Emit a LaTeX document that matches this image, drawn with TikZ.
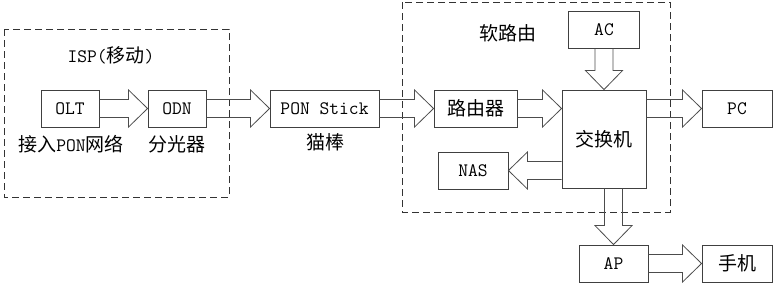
\documentclass[tikz,border=0pt]{standalone}
\usepackage{fontspec}
\usepackage{tikz}
\usetikzlibrary{calc}
\newfontfamily\cjk{Noto Sans CJK SC}

\begin{document}
\begin{tikzpicture}[x=1pt,y=-1pt,
  font=\fontsize{19}{21}\selectfont\ttfamily,
  box/.style={draw=black!75,line width=0.9pt,inner sep=0pt,minimum height=37pt},
  group/.style={draw=black!80,line width=0.9pt,dash pattern=on 7pt off 4pt},
  blk/.style={draw=black!70,line width=0.8pt,to path={
    let \p1=($(\tikztotarget)!19pt!(\tikztostart)$) in
    ($(\tikztostart)!9pt!90:(\tikztotarget)$) -- ($(\p1)!9pt!90:(\tikztotarget)$)
    -- ($(\p1)!18.5pt!90:(\tikztotarget)$) -- (\tikztotarget)
    -- ($(\p1)!18.5pt!-90:(\tikztotarget)$) -- ($(\p1)!9pt!-90:(\tikztotarget)$)
    -- ($(\tikztostart)!9pt!-90:(\tikztotarget)$)}}]
\useasboundingbox (0,0) rectangle (776,284);
\draw[group] (4,29) rectangle (229,197);
\draw[group] (402,2) rectangle (670,212);
\node (isp) at (111,55) {ISP({\cjk 移动})};
\node (soft) at (508,33) {\cjk 软路由};
\node[box,minimum width=58pt] (olt) at (70,108.5) {OLT};
\node[box,minimum width=58pt] (odn) at (177,108.5) {ODN};
\node[box,minimum width=109pt] (stick) at (324.5,108.5) {PON Stick};
\node (oltlbl) at (71,144) {{\cjk 接入}PON{\cjk 网络}};
\node (odnlbl) at (177,144) {\cjk 分光器};
\node (sticklbl) at (325,142) {\cjk 猫棒};
\node[box,minimum width=83pt] (router) at (475.5,108.5) {\cjk 路由器};
\node[box,minimum width=84pt,minimum height=98pt] (switch) at (604,139) {\cjk 交换机};
\node[box,minimum width=71pt] (ac) at (604,29.5) {AC};
\node[box,minimum width=70pt] (nas) at (473,170.5) {NAS};
\node[box,minimum width=70pt] (pc) at (737,108.5) {PC};
\node[box,minimum width=69pt] (ap) at (613.5,263.5) {AP};
\node[box,minimum width=70pt] (phone) at (737,263.5) {\cjk 手机};
\coordinate (swin) at (router.east -| switch.west);
\coordinate (swpc) at (pc.west -| switch.east);
\coordinate (swnas) at (nas.east -| switch.west);
\coordinate (swap) at (ap.north |- switch.south);
\draw[blk] (olt.east) to (odn.west);
\draw[blk] (odn.east) to (stick.west);
\draw[blk] (stick.east) to (router.west);
\draw[blk] (router.east) to (swin);
\draw[blk] (ac.south) to (switch.north);
\draw[blk] (swpc) to (pc.west);
\draw[blk] (swnas) to (nas.east);
\draw[blk] (swap) to (ap.north);
\draw[blk] (ap.east) to (phone.west);
\end{tikzpicture}
\end{document}
